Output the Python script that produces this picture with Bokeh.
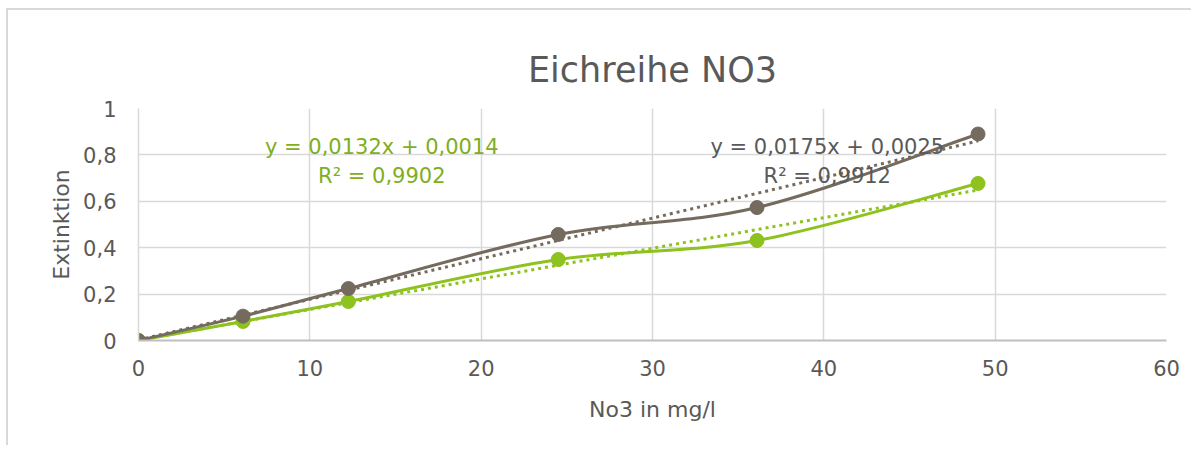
import numpy as np
from bokeh.plotting import figure
from bokeh.models import Label, FixedTicker, Range1d, Title
from bokeh.embed import file_html
from bokeh.resources import INLINE

# ---- data ----
conc = [0.0, 6.1, 12.25, 24.5, 36.1, 49.0]
ext_brown = [0.0, 0.105, 0.224, 0.457, 0.573, 0.890]
ext_green = [0.0, 0.082, 0.168, 0.349, 0.431, 0.677]
fit_brown = [0.0175, 0.0025]   # slope, intercept
fit_green = [0.0132, 0.0014]
eq_brown = ["y = 0,0175x + 0,0025", "R² = 0,9912"]
eq_green = ["y = 0,0132x + 0,0014", "R² = 0,9902"]
x_ticks = [0, 10, 20, 30, 40, 50, 60]
y_ticks = [0, 0.2, 0.4, 0.6, 0.8, 1]
y_tick_labels = ["0", "0,2", "0,4", "0,6", "0,8", "1"]
title_text = "Eichreihe NO3"
x_title = "No3 in mg/l"
y_title = "Extinktion"

BROWN = "#746a5e"
GREEN = "#8dc21f"
GREEN_TXT = "#7fae1e"
TXT = "#595959"
GRID = "#d9d9d9"
FONT = "DejaVu Sans"

p = figure(width=1185, height=437, output_backend="svg", toolbar_location=None,
           x_range=Range1d(0, 60), y_range=Range1d(0, 1),
           min_border_left=130, min_border_right=27, min_border_top=98, min_border_bottom=107,
           styles={"border-top": "2px solid #d9d9d9", "border-left": "2px solid #d9d9d9",
                   "margin-left": "6px", "margin-top": "8px"})
p.outline_line_color = None
p.background_fill_color = "white"
p.border_fill_color = "white"

# the built-in title is an invisible blank that only keeps a gap above the plot area
p.title.text = " "
p.title.standoff = 16
p.title.text_font_size = "1px"
p.title.text_alpha = 0
p.add_layout(Title(text=title_text, align="center", text_font=FONT, text_font_size="35px",
                   text_font_style="normal", text_color=TXT, standoff=38), "above")

p.xaxis.ticker = FixedTicker(ticks=x_ticks)
p.yaxis.ticker = FixedTicker(ticks=y_ticks)
p.yaxis.major_label_overrides = {t: l for t, l in zip(y_ticks, y_tick_labels)}
for ax in (p.xaxis, p.yaxis):
    ax.major_tick_line_color = None
    ax.minor_tick_line_color = None
    ax.major_label_text_font = FONT
    ax.major_label_text_font_size = "21px"
    ax.major_label_text_color = TXT
    ax.axis_label_text_font = FONT
    ax.axis_label_text_font_size = "22px"
    ax.axis_label_text_font_style = "normal"
    ax.axis_label_text_color = TXT
p.xaxis.axis_label = x_title
p.yaxis.axis_label = y_title
p.xaxis.axis_line_color = "#bfbfbf"
p.xaxis.axis_line_width = 2
p.yaxis.axis_line_color = GRID
p.yaxis.axis_line_width = 1.5
p.xaxis.major_label_standoff = 13
p.xaxis.axis_label_standoff = 18
p.yaxis.major_label_standoff = 16
p.yaxis.major_label_text_align = "right"
p.yaxis.axis_label_standoff = 6

p.xgrid.grid_line_color = GRID
p.ygrid.grid_line_color = GRID
p.xgrid.grid_line_width = 1.5
p.ygrid.grid_line_width = 1.5


def smooth_segments(xs, ys):
    xs = np.asarray(xs, float)
    ys = np.asarray(ys, float)
    n = len(xs)
    out = dict(x0=[], y0=[], x1=[], y1=[], cx0=[], cy0=[], cx1=[], cy1=[])
    for i in range(n - 1):
        a = i - 1 if i > 0 else i
        d = i + 2 if i + 2 < n else i + 1
        out["x0"].append(xs[i]); out["y0"].append(ys[i])
        out["x1"].append(xs[i + 1]); out["y1"].append(ys[i + 1])
        out["cx0"].append(xs[i] + (xs[i + 1] - xs[a]) / 6)
        out["cy0"].append(ys[i] + (ys[i + 1] - ys[a]) / 6)
        out["cx1"].append(xs[i + 1] - (xs[d] - xs[i]) / 6)
        out["cy1"].append(ys[i + 1] - (ys[d] - ys[i]) / 6)
    return out


for ys, fit, col in ((ext_green, fit_green, GREEN), (ext_brown, fit_brown, BROWN)):
    seg = smooth_segments(conc, ys)
    p.bezier(line_color=col, line_width=3, **seg)
    xf = [min(conc), max(conc)]
    yf = [fit[0] * v + fit[1] for v in xf]
    p.line(xf, yf, line_color=col, line_width=3, line_dash="3 4")
    p.scatter(conc, ys, size=14, fill_color=col, line_color=col)

for lines, cx, col in ((eq_green, 14.2, GREEN_TXT), (eq_brown, 40.2, TXT)):
    for txt, yy in zip(lines, (0.832, 0.711)):
        p.add_layout(Label(x=cx, y=yy, text=txt, text_align="center", text_baseline="middle",
                           text_font=FONT, text_font_size="21px", text_color=col))

open("out.html", "w").write(file_html(p, INLINE))
